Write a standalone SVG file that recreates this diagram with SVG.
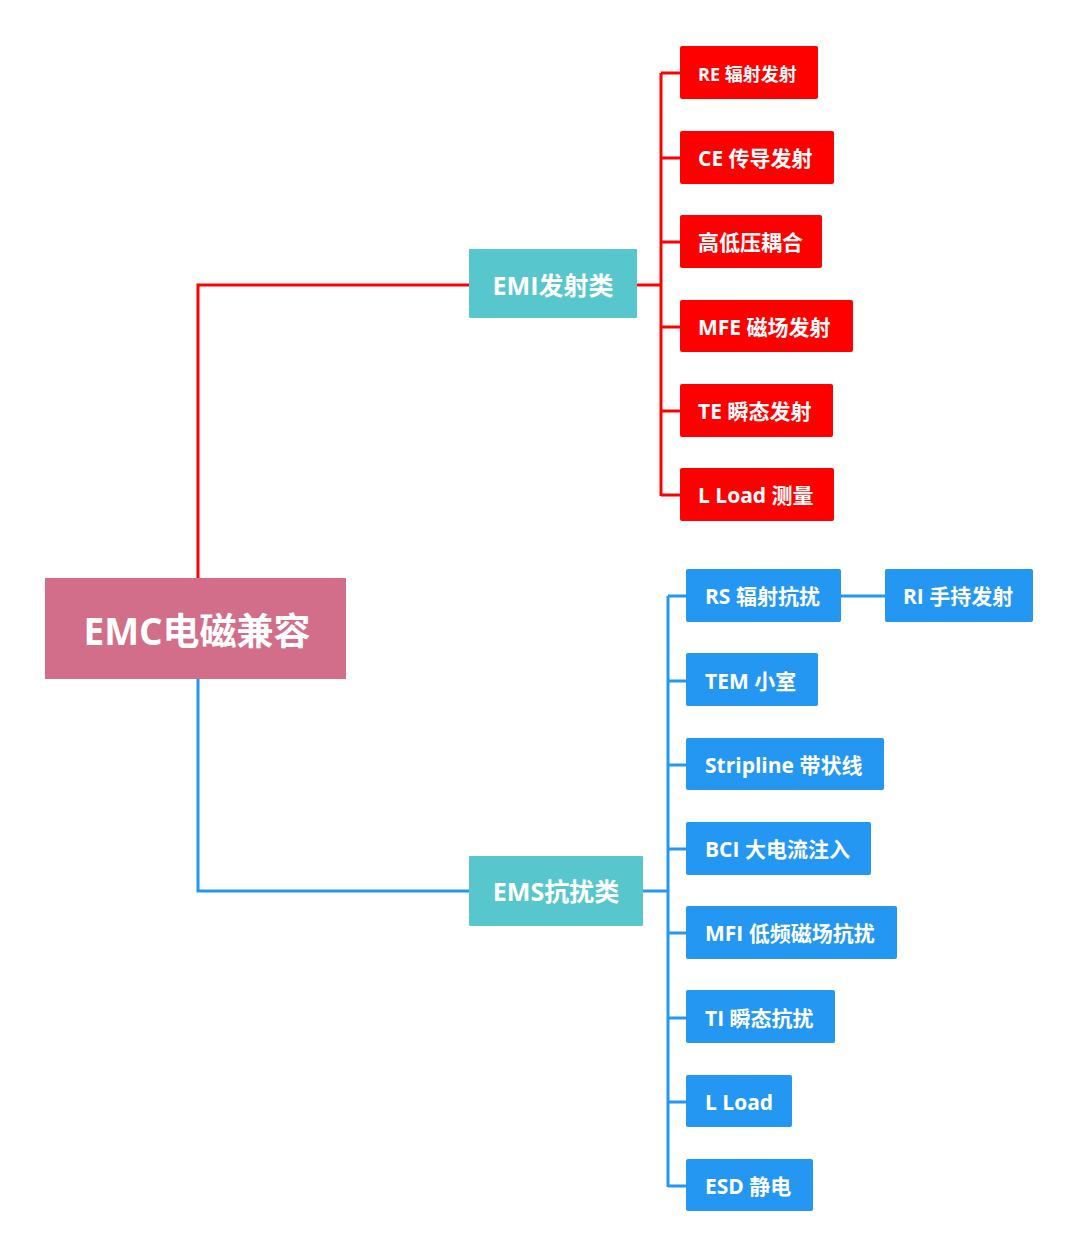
<svg xmlns="http://www.w3.org/2000/svg" width="1080" height="1258" viewBox="0 0 1080 1258">
<style>
text{font-family:"Open Sans","Noto Sans CJK SC","Microsoft YaHei",sans-serif;font-weight:bold;fill:#fff;dominant-baseline:central}
.red rect{fill:#FF0000}
.blue rect{fill:#2397F2}
.mid rect{fill:#57C6CD}
.leaf{font-size:21px}
.mt{font-size:25px;text-anchor:middle}
.rl{stroke:#FF0000;stroke-width:3;fill:none}
.bl{stroke:#2397F2;stroke-width:3;fill:none}
</style>
<rect width="1080" height="1258" fill="#fff"/>
<g id="connectors">
<path class="rl" d="M198 578 V285 H469"/>
<path class="rl" d="M637 285 H661 M661 73 V496 M661 73 H680 M661 158 H680 M661 242 H680 M661 327 H680 M661 411 H680 M661 495 H680"/>
<path class="bl" d="M198 679 V891 H469"/>
<path class="bl" d="M643 891 H668 M668 596 V1187 M668 596 H686 M668 681 H686 M668 765 H686 M668 849 H686 M668 933 H686 M668 1018 H686 M668 1102 H686 M668 1186 H686 M841 596 H885"/>
</g>
<g id="root"><rect x="45" y="578" width="301" height="101" fill="#D26E89"/><text x="197" y="630" font-size="37" text-anchor="middle">EMC电磁兼容</text></g>
<g id="emi" class="mid"><rect x="469" y="249" width="168" height="69" rx="1"/><text class="mt" x="553" y="285">EMI发射类</text></g>
<g id="ems" class="mid"><rect x="469" y="856" width="174" height="70" rx="1"/><text class="mt" x="556" y="891">EMS抗扰类</text></g>
<g id="re" class="red"><rect x="680" y="46" width="138" height="53" rx="2"/><text x="698" y="74" font-size="18">RE 辐射发射</text></g>
<g id="ce" class="red"><rect x="680" y="131" width="154" height="53" rx="2"/><text class="leaf" x="698" y="158">CE 传导发射</text></g>
<g id="hv" class="red"><rect x="680" y="215" width="142" height="53" rx="2"/><text class="leaf" x="698" y="242">高低压耦合</text></g>
<g id="mfe" class="red"><rect x="680" y="300" width="173" height="52" rx="2"/><text class="leaf" x="698" y="327">MFE 磁场发射</text></g>
<g id="te" class="red"><rect x="680" y="384" width="153" height="53" rx="2"/><text class="leaf" x="698" y="411">TE 瞬态发射</text></g>
<g id="lload1" class="red"><rect x="680" y="468" width="154" height="53" rx="2"/><text class="leaf" x="698" y="495">L Load 测量</text></g>
<g id="rs" class="blue"><rect x="686" y="569" width="155" height="53" rx="2"/><text class="leaf" x="705" y="596">RS 辐射抗扰</text></g>
<g id="ri" class="blue"><rect x="885" y="569" width="148" height="53" rx="2"/><text class="leaf" x="903" y="596">RI 手持发射</text></g>
<g id="tem" class="blue"><rect x="686" y="653" width="132" height="53" rx="2"/><text class="leaf" x="705" y="681">TEM 小室</text></g>
<g id="strip" class="blue"><rect x="686" y="738" width="198" height="52" rx="2"/><text class="leaf" x="705" y="765">Stripline 带状线</text></g>
<g id="bci" class="blue"><rect x="686" y="822" width="185" height="53" rx="2"/><text class="leaf" x="705" y="849">BCI 大电流注入</text></g>
<g id="mfi" class="blue"><rect x="686" y="906" width="211" height="53" rx="2"/><text class="leaf" x="705" y="933">MFI 低频磁场抗扰</text></g>
<g id="ti" class="blue"><rect x="686" y="990" width="149" height="53" rx="2"/><text class="leaf" x="705" y="1018">TI 瞬态抗扰</text></g>
<g id="lload2" class="blue"><rect x="686" y="1075" width="106" height="52" rx="2"/><text class="leaf" x="705" y="1102">L Load</text></g>
<g id="esd" class="blue"><rect x="686" y="1159" width="127" height="52" rx="2"/><text class="leaf" x="705" y="1186">ESD 静电</text></g>
</svg>
